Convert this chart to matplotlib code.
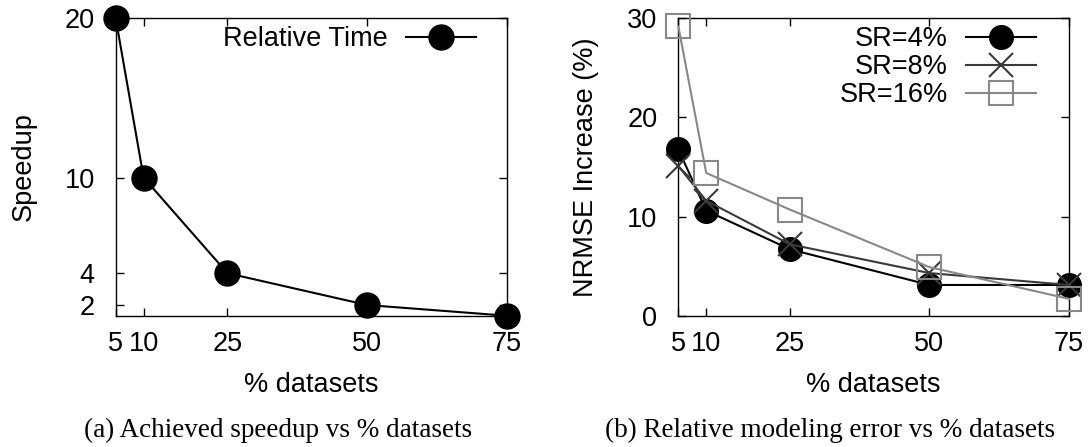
import matplotlib
matplotlib.use("Agg")
import matplotlib.pyplot as plt
from matplotlib.lines import Line2D

# Data
pct_datasets = [5, 10, 25, 50, 75]
x_tick_labels = ["5", "10", "25", "50", "75"]

speedup = [20, 10, 4, 2, 1.33]
speedup_ticks = [2, 4, 10, 20]

nrmse_sr4 = [16.8, 10.6, 6.7, 3.1, 3.1]
nrmse_sr8 = [15.1, 11.6, 7.2, 4.3, 3.1]
nrmse_sr16 = [29.2, 14.4, 10.7, 4.9, 1.7]
nrmse_ticks = [0, 10, 20, 30]

W, H = 1089, 447
DPI = 100
fig = plt.figure(figsize=(W / DPI, H / DPI), dpi=DPI)

SANS = "Liberation Sans"
SERIF = "Liberation Serif"
FS = 19.5

def px_axes(x0, y0, x1, y1):
    return fig.add_axes([x0 / W, 1 - y1 / H, (x1 - x0) / W, (y1 - y0) / H])

def style_axes(ax):
    for s in ax.spines.values():
        s.set_linewidth(1.0)
        s.set_color("black")
    ax.tick_params(direction="in", length=6, width=1.0, top=True, right=True,
                   labelsize=FS, pad=11)
    ax.set_xticks(pct_datasets)
    ax.set_xticklabels(x_tick_labels, fontfamily=SANS)
    for lab in ax.get_yticklabels():
        lab.set_fontfamily(SANS)

# (a) speedup
ax1 = px_axes(115.7, 18.3, 506.7, 315.7)
ax1.plot(pct_datasets, speedup, color="black", lw=1.5, marker="o",
         markersize=18, markerfacecolor="black", clip_on=False, zorder=3)
ax1.set_xlim(5, 75)
ax1.set_ylim(1.33, 20)
ax1.set_yticks(speedup_ticks)
style_axes(ax1)
ax1.tick_params(axis="y", pad=15)
ax1.set_xlabel("% datasets", fontsize=FS, fontfamily=SANS, labelpad=11)
ax1.set_ylabel("Speedup", fontsize=FS, fontfamily=SANS, labelpad=20)
h1 = [Line2D([], [], color="black", lw=1.5, marker="o", markersize=18,
             markerfacecolor="black")]
ax1.legend(h1, ["Relative Time"], loc="upper right", markerfirst=False,
           frameon=False, prop={"family": SANS, "size": FS},
           handlelength=2.6, handletextpad=0.65, borderpad=0,
           borderaxespad=0, bbox_to_anchor=(1 - 30.7 / 391, 1 - 8 / 297.4))

# (b) modeling error
ax2 = px_axes(678.3, 18.3, 1069, 315.7)
c4, c8, c16 = "black", "#3a3a3a", "#888888"
ax2.plot(pct_datasets, nrmse_sr4, color=c4, lw=1.5, marker="o", markersize=17,
         markerfacecolor=c4, clip_on=False, zorder=3, label="SR=4%")
ax2.plot(pct_datasets, nrmse_sr8, color=c8, lw=1.5, marker="x", markersize=17,
         markeredgewidth=1.5, clip_on=False, zorder=4, label="SR=8%")
ax2.plot(pct_datasets, nrmse_sr16, color=c16, lw=1.5, marker="s", markersize=17,
         markerfacecolor="none", markeredgewidth=1.5, clip_on=False, zorder=5,
         label="SR=16%")
ax2.set_xlim(5, 75)
ax2.set_ylim(0, 30)
ax2.set_yticks(nrmse_ticks)
style_axes(ax2)
ax2.tick_params(axis="y", pad=15)
ax2.set_xlabel("% datasets", fontsize=FS, fontfamily=SANS, labelpad=11)
ax2.set_ylabel("NRMSE Increase (%)", fontsize=FS, fontfamily=SANS, labelpad=20)
ax2.legend(loc="upper right", markerfirst=False, frameon=False,
           prop={"family": SANS, "size": FS}, handlelength=2.6,
           handletextpad=0.65, borderpad=0, borderaxespad=0, labelspacing=0.07,
           bbox_to_anchor=(1 - 33 / 390.7, 1 - 8 / 297.4))

# captions
fig.text(278 / W, 1 - 430 / H, "(a) Achieved speedup vs % datasets",
         ha="center", va="center", fontsize=FS, fontfamily=SERIF)
fig.text(830 / W, 1 - 430 / H, "(b) Relative modeling error vs % datasets",
         ha="center", va="center", fontsize=FS, fontfamily=SERIF)

fig.savefig("out.png", dpi=DPI)
